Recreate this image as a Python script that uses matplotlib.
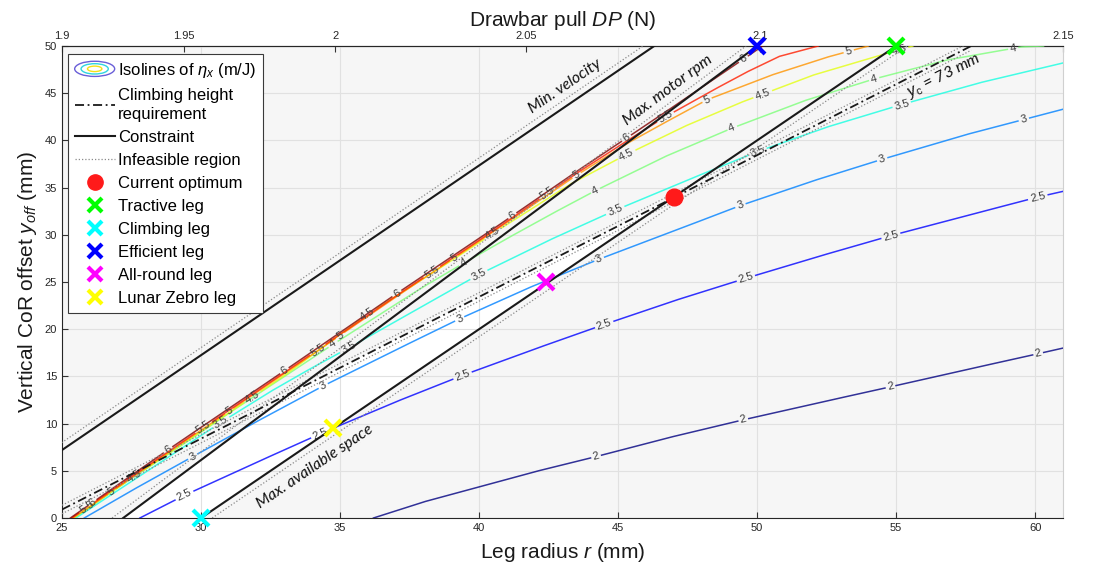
import numpy as np
import matplotlib
matplotlib.use("Agg")
import matplotlib.pyplot as plt
from matplotlib.lines import Line2D
from matplotlib.patches import Ellipse, Polygon
from matplotlib.legend_handler import HandlerBase

plt.rcParams["font.family"] = ["Liberation Sans", "DejaVu Sans"]
plt.rcParams["mathtext.fontset"] = "custom"
plt.rcParams["mathtext.it"] = "Liberation Sans:italic"
plt.rcParams["mathtext.rm"] = "Liberation Sans"
plt.rcParams["mathtext.bf"] = "Liberation Sans:bold"

# ---------------------------------------------------------------- data
# isolines of eta_x (m/J): leg radius r (mm) and CoR offset y_off (mm)
iso20_r = [36.2, 38.0, 40.0, 42.0, 44.2, 46.8, 49.5, 52.2, 54.8, 57.5, 60.1, 61.0]
iso20_y = [0.0, 1.7, 3.3, 4.9, 6.5, 8.5, 10.4, 12.2, 13.9, 15.7, 17.4, 18.0]
iso20_lab = [44.2, 49.5, 54.8, 60.1]

iso25_r = [27.8, 29.4, 32.0, 34.5, 37.0, 39.4, 42.0, 44.5, 47.0, 49.6, 52.2, 54.8, 57.5, 60.1, 61.0]
iso25_y = [0.0, 2.4, 5.9, 9.2, 12.3, 15.1, 17.9, 20.5, 23.0, 25.4, 27.7, 29.9, 32.0, 34.0, 34.6]
iso25_lab = [29.4, 34.3, 39.4, 44.5, 49.6, 54.8, 60.1]

iso30_r = [25.8, 27.5, 29.7, 31.8, 34.4, 37.0, 39.3, 41.8, 44.3, 47.0, 49.4, 52.0, 54.5, 57.5, 61.0]
iso30_y = [0.0, 2.9, 6.5, 9.9, 14.0, 17.8, 21.1, 24.4, 27.4, 30.4, 33.1, 35.7, 38.0, 40.6, 43.3]
iso30_lab = [29.7, 34.4, 39.3, 44.3, 49.4, 54.5, 59.6]

iso35_r = [25.5, 27.0, 28.8, 30.7, 32.5, 33.8, 35.3, 36.5, 38.0, 40.0, 42.5, 44.9, 47.5, 50.0, 52.5, 55.2, 58.0, 61.0]
iso35_y = [0.0, 2.9, 6.4, 10.1, 13.4, 15.6, 18.0, 20.0, 22.5, 25.8, 29.4, 32.6, 35.8, 38.8, 41.4, 43.8, 46.1, 48.2]
iso35_lab = [30.7, 35.3, 40.0, 44.9, 50.0, 55.2]

iso40_r = [25.45, 27.0, 29.0, 31.0, 33.0, 34.75, 36.5, 38.0, 39.45, 41.0, 42.6, 44.2, 46.7, 49.1, 51.7, 54.2, 56.8, 59.5, 60.3]
iso40_y = [0.0, 3.2, 7.1, 11.1, 15.0, 18.4, 21.7, 24.5, 27.0, 29.6, 32.2, 34.7, 38.3, 41.3, 44.2, 46.5, 48.5, 49.9, 50.0]
iso40_lab = [34.75, 39.45, 44.2, 49.1, 54.2, 59.2]

iso45_r = [25.4, 28.8, 33.0, 36.0, 38.5, 40.9, 43.3, 45.3, 47.4, 49.4, 52.0, 54.4, 55.6]
iso45_y = [0.0, 6.8, 15.1, 21.6, 26.3, 30.9, 35.4, 38.5, 41.5, 44.0, 46.9, 49.0, 50.0]
iso45_lab = [27.6, 31.85, 36.0, 40.5, 45.3, 50.2, 55.1]

iso50_r = [25.4, 28.8, 33.0, 37.0, 40.5, 43.5, 45.4, 46.5, 48.2, 50.5, 52.5, 54.0]
iso50_y = [0.0, 6.9, 15.3, 23.4, 30.3, 36.3, 39.8, 41.6, 44.3, 46.9, 48.8, 50.0]
iso50_lab = [26.8, 31.0, 35.0, 39.1, 43.5, 48.2, 53.3]

iso55_r = [25.35, 28.8, 33.0, 37.0, 40.5, 43.5, 45.5, 46.7, 48.4, 49.6, 50.8, 52.2]
iso55_y = [0.0, 7.0, 15.4, 23.5, 30.4, 36.5, 40.3, 42.5, 45.3, 47.2, 48.9, 50.0]
iso55_lab = [25.9, 30.1, 34.2, 38.3, 42.45, 46.7]

iso60_r = [25.3, 28.8, 33.0, 37.0, 40.5, 43.5, 46.5, 49.5, 50.2]
iso60_y = [0.0, 7.2, 15.6, 23.7, 30.6, 36.7, 42.6, 48.6, 50.0]
iso60_lab = [26.1, 28.8, 33.0, 37.05, 41.2, 45.3, 49.5]

iso_levels = [2, 2.5, 3, 3.5, 4, 4.5, 5, 5.5, 6]

# constraint lines (end points, r in mm, y_off in mm)
min_velocity_r = [25.0, 46.3]
min_velocity_y = [7.2, 50.0]
max_rpm_r = [27.2, 50.0]
max_rpm_y = [0.0, 50.0]
max_space_r = [30.0, 55.0]
max_space_y = [0.0, 50.0]
climb_r = [25.0, 57.7]
climb_y = [0.9, 50.0]

# legs
optimum_r, optimum_y = 47.0, 34.0
leg_names = ["Tractive leg", "Climbing leg", "Efficient leg", "All-round leg", "Lunar Zebro leg"]
leg_r = [55.0, 30.0, 50.0, 42.4, 34.75]
leg_y = [50.0, 0.0, 50.0, 25.0, 9.5]
leg_colors = ["#00ff00", "#00ffff", "#0000ff", "#ff00ff", "#ffff00"]

# drawbar pull axis: tick values and the leg radius they sit at
dp_ticks = ["1.9", "1.95", "2", "2.05", "2.1", "2.15"]
dp_tick_r = [25.0, 29.38, 34.83, 41.69, 50.1, 61.0]

x_ticks = [25, 30, 35, 40, 45, 50, 55, 60]
y_ticks = [0, 5, 10, 15, 20, 25, 30, 35, 40, 45, 50]

# ---------------------------------------------------------------- figure
fig = plt.figure(figsize=(10.94, 5.67), dpi=100)
ax = fig.add_axes([0.05667, 0.0864, 0.9150, 0.8325])
ax.set_xlim(25, 61)
ax.set_ylim(0, 50)
ax.set_facecolor("#f6f6f6")


def line_through(r, y):
    (r0, r1), (y0, y1) = r, y
    k = (y1 - y0) / (r1 - r0)
    return k, y0 - k * r0


def intersect(a, b):
    (k1, c1), (k2, c2) = a, b
    r = (c2 - c1) / (k1 - k2)
    return r, k1 * r + c1


L_rpm = line_through(max_rpm_r, max_rpm_y)
L_space = line_through(max_space_r, max_space_y)
L_climb = line_through(climb_r, climb_y)

# feasible design space (white)
p_a = intersect(L_space, L_climb)
p_b = intersect(L_rpm, L_climb)
feasible = Polygon([(max_rpm_r[0], 0), (max_space_r[0], 0), p_a, p_b],
                   closed=True, facecolor="white", edgecolor="none", zorder=0.2)
ax.add_patch(feasible)

ax.set_axisbelow(True)
ax.grid(True, color="#e1e1e1", lw=0.8)
ax.set_xticks(x_ticks)
ax.set_yticks(y_ticks)
ax.tick_params(direction="in", length=4, labelsize=8, color="#333333", labelcolor="#262626")
for s in ["left", "bottom", "top"]:
    ax.spines[s].set_color("#262626")
    ax.spines[s].set_linewidth(0.8)
ax.spines["right"].set_color("#d0d0d0")

fig.canvas.draw()
to_px = ax.transData.transform
cmap = plt.get_cmap("jet")


def label_width(txt):
    return sum(3.1 if ch == "." else 6.2 for ch in txt)


def draw_iso(r, y, lab_r, level):
    r = np.asarray(r, float)
    y = np.asarray(y, float)
    rd = np.linspace(r[0], r[-1], 1500)
    yd = np.interp(rd, r, y)
    px = to_px(np.column_stack([rd, yd]))
    s = np.concatenate([[0], np.cumsum(np.hypot(*np.diff(px, axis=0).T))])
    txt = f"{level:g}"
    hw = label_width(txt) / 2 + 2.5
    mask = np.zeros_like(rd, bool)
    for rl in lab_r:
        i = int(np.argmin(np.abs(rd - rl)))
        mask |= np.abs(s - s[i]) < hw
        j0, j1 = max(i - 8, 0), min(i + 8, len(rd) - 1)
        ang = np.degrees(np.arctan2(px[j1, 1] - px[j0, 1], px[j1, 0] - px[j0, 0]))
        ax.text(rd[i], yd[i], txt, fontsize=8, color="#3c3c3c", ha="center", va="center",
                rotation=ang, rotation_mode="anchor", zorder=4)
    yd = yd.copy()
    yd[mask] = np.nan
    col = cmap((level - iso_levels[0]) / (iso_levels[-1] - iso_levels[0]))
    ax.plot(rd, yd, color=col, lw=1.1, alpha=0.8, zorder=3)


iso_sets = [
    (iso20_r, iso20_y, iso20_lab), (iso25_r, iso25_y, iso25_lab),
    (iso30_r, iso30_y, iso30_lab), (iso35_r, iso35_y, iso35_lab),
    (iso40_r, iso40_y, iso40_lab), (iso45_r, iso45_y, iso45_lab),
    (iso50_r, iso50_y, iso50_lab), (iso55_r, iso55_y, iso55_lab),
    (iso60_r, iso60_y, iso60_lab),
]
for lvl, (r, y, lab) in zip(iso_levels, iso_sets):
    draw_iso(r, y, lab, lvl)

# constraints with the infeasible side dotted
dot_style = dict(color="#8a8a8a", ls=(0, (1, 1.6)), lw=0.9, zorder=5)
line_style = dict(color="#1a1a1a", lw=1.5, zorder=6)
shift = 0.4
ax.plot(min_velocity_r, min_velocity_y, **line_style)
ax.plot(np.array(min_velocity_r) - shift, min_velocity_y, **dot_style)
ax.plot(max_rpm_r, max_rpm_y, **line_style)
ax.plot(np.array(max_rpm_r) - shift, max_rpm_y, **dot_style)
ax.plot(max_space_r, max_space_y, **line_style)
ax.plot(np.array(max_space_r) + shift, max_space_y, **dot_style)
ax.plot(climb_r, climb_y, color="#1a1a1a", lw=1.3, ls=(0, (5, 2, 1, 2)), zorder=6)
ax.plot(climb_r, np.array(climb_y) + 0.45, **dot_style)
ax.plot(climb_r, np.array(climb_y) - 0.45, **dot_style)


def angle_of(r, y):
    p = to_px(np.column_stack([r, y]))
    return np.degrees(np.arctan2(p[1, 1] - p[0, 1], p[1, 0] - p[0, 0]))


note = dict(fontsize=11.5, fontstyle="italic", family=["Lato", "DejaVu Sans"],
            ha="center", va="center", rotation_mode="anchor", color="#111111", zorder=7)
ax.text(43.1, 45.7, "Min. velocity", rotation=angle_of(min_velocity_r, min_velocity_y), **note)
ax.text(46.8, 45.3, "Max. motor rpm", rotation=angle_of(max_rpm_r, max_rpm_y), **note)
ax.text(34.1, 5.4, "Max. available space", rotation=angle_of(max_space_r, max_space_y), **note)
ax.text(56.7, 46.8, r"$y_\mathrm{c}$ = 73 mm", rotation=angle_of(climb_r, climb_y), **note)

# optimum and reference legs
ax.plot(optimum_r, optimum_y, "o", color="#ff1a1a", ms=12, zorder=9, clip_on=False)
for r, y, c in zip(leg_r, leg_y, leg_colors):
    ax.plot(r, y, "x", color=c, ms=11, mew=3, zorder=10, clip_on=False)

# drawbar pull axis
top = ax.secondary_xaxis("top")
top.set_xticks(dp_tick_r, labels=dp_ticks)
top.tick_params(direction="in", length=4, labelsize=8, color="#333333", labelcolor="#262626")
top.spines["top"].set_color("#262626")
top.set_xlabel("Drawbar pull $DP$ (N)", fontsize=15, labelpad=4, color="#1a1a1a")

ax.set_xlabel("Leg radius $r$ (mm)", fontsize=15, labelpad=6, color="#1a1a1a")
ax.set_ylabel("Vertical CoR offset $y_{off}$ (mm)", fontsize=15, labelpad=4, color="#1a1a1a")


# legend
class IsoHandler(HandlerBase):
    def create_artists(self, legend, orig_handle, xdescent, ydescent, width, height, fontsize, trans):
        cx = width / 2 - xdescent
        cy = height / 2 - ydescent
        arts = []
        for f, c in zip([1.0, 0.68, 0.36], ["#6a5fd8", "#2fd5e0", "#f2e21a"]):
            arts.append(Ellipse((cx, cy), width * f, height * 1.3 * f, fill=False,
                                edgecolor=c, lw=1.0, transform=trans))
        return arts


iso_handle = Line2D([], [])
handles = [
    iso_handle,
    Line2D([], [], color="#1a1a1a", lw=1.3, ls=(0, (5, 2, 1, 2))),
    Line2D([], [], color="#1a1a1a", lw=1.5),
    Line2D([], [], color="#8a8a8a", lw=0.9, ls=(0, (1, 1.6))),
    Line2D([], [], marker="o", color="#ff1a1a", ls="none", ms=11),
] + [Line2D([], [], marker="x", color=c, ls="none", ms=10, mew=3) for c in leg_colors]
labels = [r"Isolines of $\eta_x$ (m/J)", "Climbing height\nrequirement", "Constraint",
          "Infeasible region", "Current optimum"] + leg_names
leg = ax.legend(handles, labels, handler_map={iso_handle: IsoHandler()},
                loc="upper left", bbox_to_anchor=(0.006, 0.983), fontsize=12,
                handlelength=2.4, handletextpad=0.2, borderpad=0.4, labelspacing=0.48,
                fancybox=False, framealpha=1, edgecolor="#3a3a3a", borderaxespad=0)
for t in leg.get_texts():
    t.set_linespacing(1.35)
leg.get_frame().set_linewidth(0.8)
leg.set_zorder(20)

fig.savefig("out.png", dpi=100)
